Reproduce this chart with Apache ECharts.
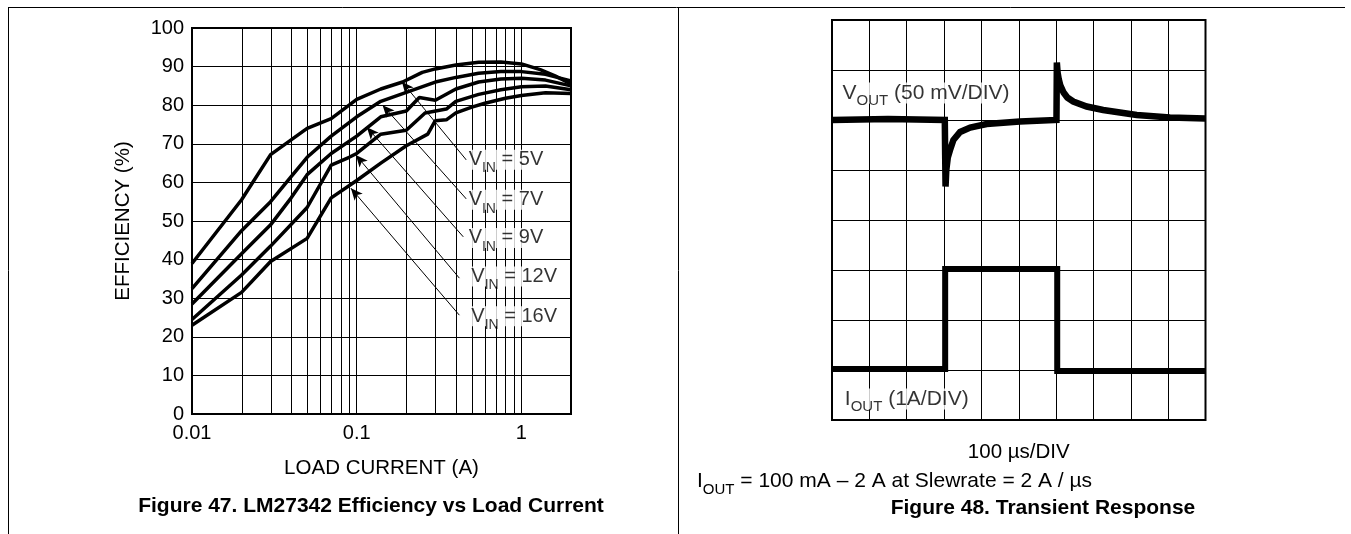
<!DOCTYPE html>
<html><head><meta charset="utf-8">
<script src="https://cdn.jsdelivr.net/npm/echarts@6/dist/echarts.min.js"></script>
<style>html,body{margin:0;padding:0;background:#fff;}#c{width:1351px;height:534px;}</style>
</head><body><div id="c"></div>
<script>
// ===== Figure 47: efficiency vs load current =====
const effXTicks = [0.01, 0.1, 1];
const effMinorGrid = [0.02,0.03,0.04,0.05,0.06,0.07,0.08,0.09,0.2,0.3,0.4,0.5,0.6,0.7,0.8,0.9];
const seriesNames = ['5V','7V','9V','12V','16V'];
const vin5 = [[0.01,39],[0.02,55.5],[0.03,67.2],[0.05,74],[0.07,76.5],[0.1,81.5],[0.14,84.2],[0.19,86],[0.25,88.5],[0.3,89.4],[0.4,90.4],[0.55,91.1],[0.75,91.2],[1.0,90.7],[1.3,89.2],[1.6,87.6],[2.0,85.5]];
const vin7 = [[0.01,32.5],[0.02,47.5],[0.03,55],[0.04,61.5],[0.05,66.5],[0.07,72],[0.1,77],[0.14,81],[0.2,83.3],[0.3,86],[0.4,87.2],[0.55,88.3],[0.75,88.7],[1.0,88.7],[1.4,88],[2.0,86.3]];
const vin9 = [[0.01,28.5],[0.02,41.5],[0.03,49],[0.04,56],[0.05,62],[0.07,67.5],[0.1,72],[0.14,77],[0.2,78.5],[0.24,82],[0.3,81.3],[0.4,84.2],[0.55,86],[0.75,86.8],[1.0,87],[1.4,86.5],[2.0,85]];
const vin12 = [[0.01,24.5],[0.02,36],[0.03,43.5],[0.05,53.5],[0.07,64.5],[0.09,66.5],[0.1,67.5],[0.14,72.5],[0.2,73.5],[0.26,78],[0.35,79],[0.4,81],[0.55,82.8],[0.75,84],[1.0,84.8],[1.4,85],[2.0,84]];
const vin16 = [[0.01,23],[0.02,31.5],[0.03,39.5],[0.05,45.5],[0.07,56],[0.1,60.5],[0.14,65],[0.2,69.5],[0.27,72.5],[0.3,76],[0.35,76.2],[0.4,78],[0.5,79.5],[0.6,80.5],[0.8,81.8],[1.0,82.5],[1.4,83.2],[2.0,83]];
const labelAnchors = [[0.465,65.9],[0.465,55.5],[0.465,45.6],[0.483,35.6],[0.483,25.3]];
const arrowTails = [[0.4633,65.8],[0.4633,55.7],[0.4436,45.9],[0.42,35.2],[0.42,25.6]];
const arrowTips  = [[0.188,86.1],[0.1436,80],[0.1153,74.3],[0.0989,67.1],[0.0922,58.5]];

// ===== Figure 48: transient response (x: µs, y: divisions) =====
const voutTrace = [[0,6.0],[150,6.02],[302,6.0],[303,5.3],[304,4.67],[306,5.0],[310,5.25],[316,5.4],[325,5.6],[343,5.76],[370,5.85],[414,5.92],[503,5.97],[601,6.0],[602,7.15],[604,6.95],[607,6.82],[611,6.7],[620,6.55],[630,6.45],[646,6.37],[682,6.27],[726,6.2],[816,6.1],[905,6.05],[1000,6.03]];
const ioutTrace = [[0,1.02],[303,1.02],[303,3.02],[603,3.02],[603,0.98],[1000,0.98]];

const FF = '"Liberation Sans", Arial, Helvetica, sans-serif';
const effCurves = [vin5, vin7, vin9, vin12, vin16];

const chart = echarts.init(document.getElementById('c'));
const blackLine = {show:true, lineStyle:{color:'#000', width:1}};

const option = {
  animation:false,
  backgroundColor:'#fff',
  textStyle:{fontFamily:FF, color:'#000'},
  grid:[
    {left:192, right:780, top:28, bottom:120, show:true, borderColor:'#000', borderWidth:2, backgroundColor:'transparent'},
    {left:832, right:145.5, top:20, bottom:114, show:true, borderColor:'#000', borderWidth:2, backgroundColor:'transparent'}
  ],
  xAxis:[
    {gridIndex:0, type:'log', logBase:10, min:0.01, max:2,
     name:'LOAD CURRENT (A)', nameLocation:'middle', nameGap:44,
     nameTextStyle:{fontSize:20.5, color:'#000', fontFamily:FF},
     axisLine:{show:true, lineStyle:{color:'#000', width:2}}, axisTick:{show:false},
     axisLabel:{fontSize:20, color:'#000', fontFamily:FF, margin:9, showMaxLabel:false,
       formatter:v => { const t = effXTicks.find(t => Math.abs(t - v)/t < 1e-6); return t === undefined ? '' : String(t); }},
     splitLine:blackLine},
    {gridIndex:1, type:'value', min:0, max:1000, interval:100,
     name:'100 µs/DIV', nameLocation:'middle', nameGap:22,
     nameTextStyle:{fontSize:20.5, color:'#000', fontFamily:FF},
     axisLine:{show:false}, axisTick:{show:false}, axisLabel:{show:false}, splitLine:blackLine}
  ],
  yAxis:[
    {gridIndex:0, type:'value', min:0, max:100, interval:10,
     name:'EFFICIENCY (%)', nameLocation:'middle', nameGap:58, nameRotate:90,
     nameTextStyle:{fontSize:20.5, color:'#000', fontFamily:FF},
     axisLine:{show:true, lineStyle:{color:'#000', width:2}}, axisTick:{show:false},
     axisLabel:{fontSize:20, color:'#000', fontFamily:FF, margin:8},
     splitLine:blackLine},
    {gridIndex:1, type:'value', min:0, max:8, interval:1,
     axisLine:{show:false}, axisTick:{show:false}, axisLabel:{show:false}, splitLine:blackLine}
  ],
  series:[]
};

// minor log gridlines, drawn through the log scale
option.series.push({
  type:'custom', xAxisIndex:0, yAxisIndex:0, silent:true, z:1,
  data: effMinorGrid.map(v => [v, 0]), encode:{x:0, y:1},
  renderItem:(params, api) => {
    const p0 = api.coord([api.value(0), 0]);
    const p1 = api.coord([api.value(0), 100]);
    const x = Math.round(p0[0]) + 0.5;
    return {type:'line', silent:true, shape:{x1:x, y1:p1[1], x2:x, y2:p0[1]}, style:{stroke:'#000', lineWidth:1}};
  }
});
// arrows
option.series.push({
  type:'line', xAxisIndex:0, yAxisIndex:0, data:[], silent:true, z:3,
  markLine:{silent:true, symbol:['none','arrow'], symbolSize:[8,12], animation:false, label:{show:false},
    lineStyle:{color:'#000', width:1, type:'solid'},
    data: arrowTails.map((t,i) => [{coord:t}, {coord:arrowTips[i]}])}
});
effCurves.forEach((d,i) => option.series.push({
  type:'line', name:'VIN = '+seriesNames[i], xAxisIndex:0, yAxisIndex:0, data:d,
  symbol:'none', smooth:false, z:4, lineStyle:{color:'#000', width:3.5}
}));
// VIN labels (own layer so their white boxes mask the grid)
const vinRich = {
  v:{fontSize:20, lineHeight:20, verticalAlign:'top', color:'#000', fontFamily:FF},
  s:{fontSize:14, lineHeight:14, padding:[12,0,0,0], verticalAlign:'top', color:'#000', fontFamily:FF}
};
option.series.push({
  type:'scatter', xAxisIndex:0, yAxisIndex:0, symbolSize:0, z:20, zlevel:1, silent:true,
  data: labelAnchors.map((a,i) => ({name:seriesNames[i], value:a})),
  label:{show:true, position:'right', distance:0, backgroundColor:'#fff', padding:[0,2,0,2], color:'#000',
    formatter:p => '{v|V}{s|IN}{v| = ' + p.name + '}', rich:vinRich},
  labelLayout:{hideOverlap:false}
});

// scope traces
option.series.push({type:'line', xAxisIndex:1, yAxisIndex:1, data:voutTrace, symbol:'none', z:4,
  lineStyle:{color:'#000', width:6.5, join:'miter'}});
option.series.push({type:'line', xAxisIndex:1, yAxisIndex:1, data:ioutTrace, symbol:'none', z:4,
  lineStyle:{color:'#000', width:6, join:'miter'}});
const scopeRich = {
  v:{fontSize:21, lineHeight:21, verticalAlign:'top', color:'#000', fontFamily:FF},
  s:{fontSize:15, lineHeight:15, padding:[11,0,0,0], verticalAlign:'top', color:'#000', fontFamily:FF}
};
const scopeLabels = [
  {name:'V', sub:'OUT', rest:' (50 mV/DIV)', value:[23,6.54]},
  {name:'I', sub:'OUT', rest:' (1A/DIV)', value:[29,0.42]}
];
option.series.push({
  type:'scatter', xAxisIndex:1, yAxisIndex:1, symbolSize:0, z:20, zlevel:1, silent:true,
  data: scopeLabels.map(l => ({name:l.name, value:l.value, sub:l.sub, rest:l.rest})),
  label:{show:true, position:'right', distance:0, backgroundColor:'#fff', padding:[0,2,0,2],
    formatter:p => '{v|' + p.data.name + '}{s|' + p.data.sub + '}{v|' + p.data.rest + '}', rich:scopeRich}
});

option.graphic = [
  {type:'line', shape:{x1:8, y1:7.5, x2:1345, y2:7.5}, style:{stroke:'#000', lineWidth:1}},
  {type:'line', shape:{x1:8.5, y1:7, x2:8.5, y2:534}, style:{stroke:'#000', lineWidth:1}},
  {type:'line', shape:{x1:678.5, y1:7, x2:678.5, y2:534}, style:{stroke:'#000', lineWidth:1}},
  {type:'text', x:371, y:506, style:{text:'Figure 47. LM27342 Efficiency vs Load Current', font:'bold 21px ' + FF, fill:'#000', align:'center', verticalAlign:'middle', textAlign:'center', textVerticalAlign:'middle'}},
  {type:'text', x:1043, y:508, style:{text:'Figure 48. Transient Response', font:'bold 21px ' + FF, fill:'#000', align:'center', verticalAlign:'middle', textAlign:'center', textVerticalAlign:'middle'}},
  {type:'text', x:697, y:471, style:{text:'{m|I}{s|OUT}{m| = 100 mA – 2 A at Slewrate = 2 A / µs}', fill:'#000',
    rich:{m:{fontSize:21, lineHeight:21, verticalAlign:'top', fontFamily:FF, fill:'#000', color:'#000'},
          s:{fontSize:15, lineHeight:15, padding:[11,0,0,0], verticalAlign:'top', fontFamily:FF, fill:'#000', color:'#000'}}}}
];

chart.setOption(option);
</script></body></html>
